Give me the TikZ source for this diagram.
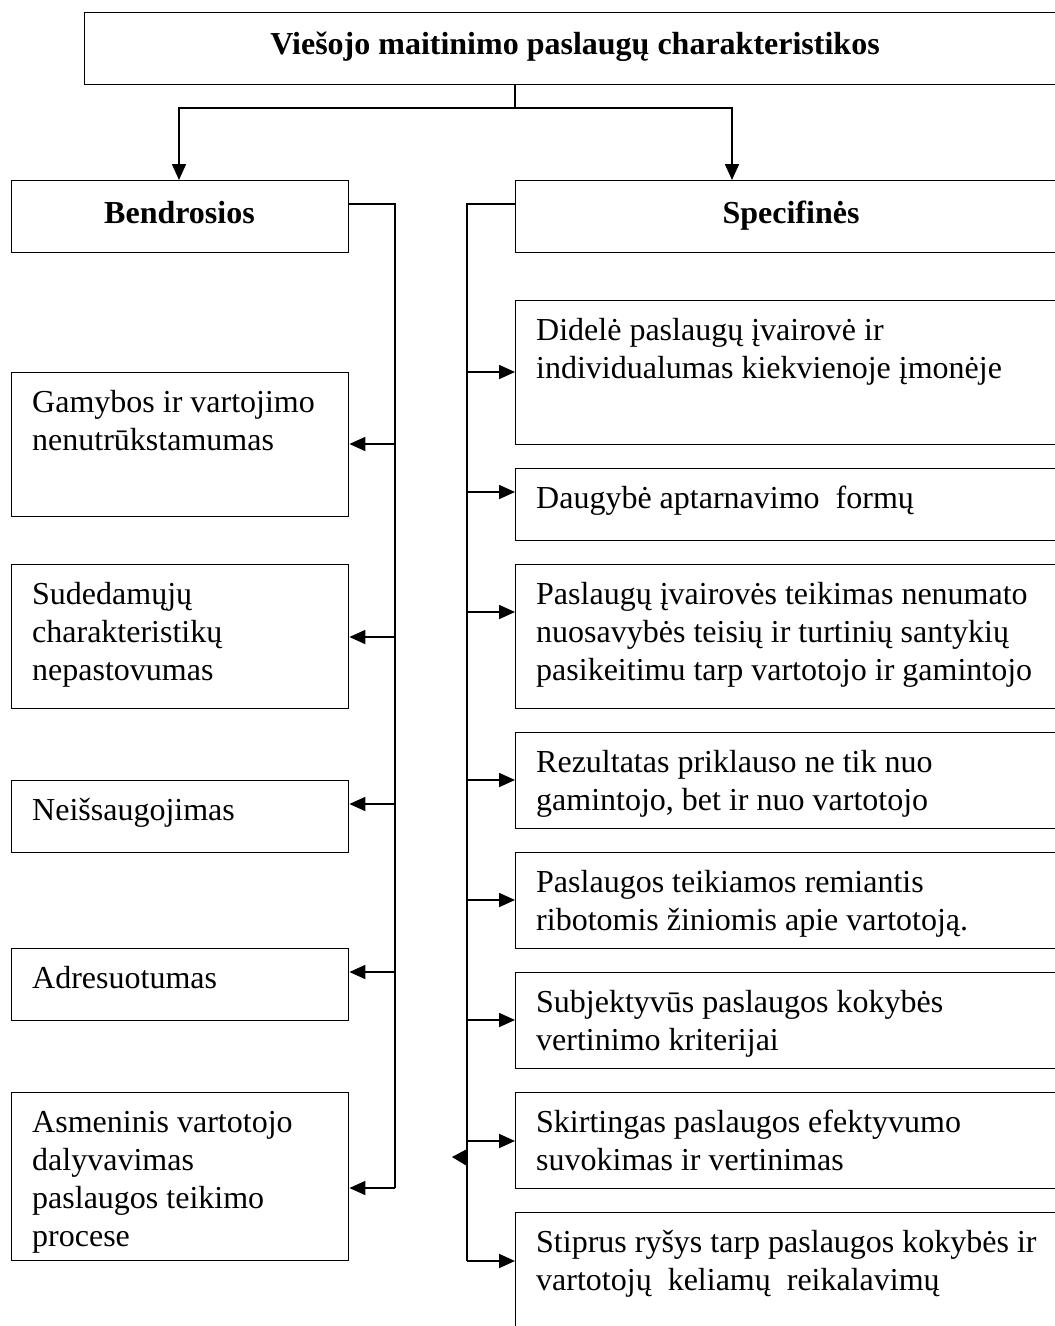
\documentclass[tikz,border=0pt]{standalone}
\usepackage{fontspec}
\setmainfont{Liberation Serif}
\usetikzlibrary{arrows.meta}
\begin{document}
\begin{tikzpicture}[x=1pt,y=-1pt,
  boxst/.style={draw=black,line width=1.4pt,rectangle,inner sep=0pt,anchor=north west},
  txt/.style={anchor=north west,inner sep=0pt,align=left,font=\fontsize{32}{38}\selectfont},
  head/.style={inner sep=0pt,anchor=base,font=\fontsize{32}{38}\selectfont\bfseries},
  conn/.style={line width=1.8pt},
  arr/.style={line width=1.8pt,-{Triangle[length=16pt,width=14pt]}}]
\clip (0,0) rectangle (1055,1326);
\fill[white] (0,0) rectangle (1055,1326);

% top
\node[boxst,minimum width=982pt,minimum height=72pt] (top) at (84,12) {};
\node[head] (toptxt) at (575,54) {Viešojo maitinimo paslaugų charakteristikos};
\node[boxst,minimum width=337pt,minimum height=72pt] (bend) at (11,180) {};
\node[head] (bendtxt) at (179.5,223) {Bendrosios};
\node[boxst,minimum width=552pt,minimum height=72pt] (spec) at (515,180) {};
\node[head] (spectxt) at (791,223) {Specifinės};

\coordinate (stem) at (515,108);
\draw[conn] (top.south -| stem) -- (stem);
\draw[arr] (stem) -| (bend.north -| 179,0);
\draw[arr] (stem) -| (spec.north -| 732,0);

% left column boxes
\node[boxst,minimum width=337pt,minimum height=144pt] (l1) at (11,372) {};
\node[boxst,minimum width=337pt,minimum height=144pt] (l2) at (11,564) {};
\node[boxst,minimum width=337pt,minimum height=72pt] (l3) at (11,780) {};
\node[boxst,minimum width=337pt,minimum height=72pt] (l4) at (11,948) {};
\node[boxst,minimum width=337pt,minimum height=168pt] (l5) at (11,1092) {};

\node[txt] (l1t) at ([shift={(21pt,-13.4pt)}]l1.north west) {\strut Gamybos ir vartojimo\\nenutrūkstamumas};
\node[txt] (l2t) at ([shift={(21pt,-13.4pt)}]l2.north west) {\strut Sudedamųjų\\charakteristikų\\nepastovumas};
\node[txt] (l3t) at ([shift={(21pt,-13.4pt)}]l3.north west) {\strut Neišsaugojimas};
\node[txt] (l4t) at ([shift={(21pt,-13.4pt)}]l4.north west) {\strut Adresuotumas};
\node[txt] (l5t) at ([shift={(21pt,-13.4pt)}]l5.north west) {\strut Asmeninis vartotojo\\dalyvavimas\\paslaugos teikimo\\procese};

% right column boxes
\node[boxst,minimum width=552pt,minimum height=144pt] (r1) at (515,300) {};
\node[boxst,minimum width=552pt,minimum height=72pt] (r2) at (515,468) {};
\node[boxst,minimum width=552pt,minimum height=144pt] (r3) at (515,564) {};
\node[boxst,minimum width=552pt,minimum height=96pt] (r4) at (515,732) {};
\node[boxst,minimum width=552pt,minimum height=96pt] (r5) at (515,852) {};
\node[boxst,minimum width=552pt,minimum height=96pt] (r6) at (515,972) {};
\node[boxst,minimum width=552pt,minimum height=96pt] (r7) at (515,1092) {};
\node[boxst,minimum width=552pt,minimum height=140pt] (r8) at (515,1212) {};

\node[txt] (r1t) at ([shift={(21pt,-13.4pt)}]r1.north west) {\strut Didelė paslaugų įvairovė ir\\individualumas kiekvienoje įmonėje};
\node[txt] (r2t) at ([shift={(21pt,-13.4pt)}]r2.north west) {\strut Daugybė aptarnavimo\ \ formų};
\node[txt] (r3t) at ([shift={(21pt,-13.4pt)}]r3.north west) {\strut Paslaugų įvairovės teikimas nenumato\\nuosavybės teisių ir turtinių santykių\\pasikeitimu tarp vartotojo ir gamintojo};
\node[txt] (r4t) at ([shift={(21pt,-13.4pt)}]r4.north west) {\strut Rezultatas priklauso ne tik nuo\\gamintojo, bet ir nuo vartotojo};
\node[txt] (r5t) at ([shift={(21pt,-13.4pt)}]r5.north west) {\strut Paslaugos teikiamos remiantis\\ribotomis žiniomis apie vartotoją.};
\node[txt] (r6t) at ([shift={(21pt,-13.4pt)}]r6.north west) {\strut Subjektyvūs paslaugos kokybės\\vertinimo kriterijai};
\node[txt] (r7t) at ([shift={(21pt,-13.4pt)}]r7.north west) {\strut Skirtingas paslaugos efektyvumo\\suvokimas ir vertinimas};
\node[txt] (r8t) at ([shift={(21pt,-13.4pt)}]r8.north west) {\strut Stiprus ryšys tarp paslaugos kokybės ir\\vartotojų\ \ keliamų\ \ reikalavimų};

% left bus
\coordinate (Ltop) at (395,204);
\coordinate (L1) at (395,444);
\coordinate (L2) at (395,637);
\coordinate (L3) at (395,804);
\coordinate (L4) at (395,972);
\coordinate (L5) at (395,1188);
\draw[conn] (bend.east |- Ltop) -- (Ltop) -- (L5);
\draw[arr] (L1) -- (L1 -| l1.east);
\draw[arr] (L2) -- (L2 -| l2.east);
\draw[arr] (L3) -- (L3 -| l3.east);
\draw[arr] (L4) -- (L4 -| l4.east);
\draw[arr] (L5) -- (L5 -| l5.east);

% right bus
\coordinate (Rtop) at (467,204);
\coordinate (R1) at (467,372);
\coordinate (R2) at (467,492);
\coordinate (R3) at (467,612);
\coordinate (R4) at (467,780);
\coordinate (R5) at (467,900);
\coordinate (R6) at (467,1020);
\coordinate (R7) at (467,1141);
\coordinate (R8) at (467,1261);
\draw[conn] (spec.west |- Rtop) -- (Rtop) -- (R8);
\draw[arr] (R1) -- (R1 -| r1.west);
\draw[arr] (R2) -- (R2 -| r2.west);
\draw[arr] (R3) -- (R3 -| r3.west);
\draw[arr] (R4) -- (R4 -| r4.west);
\draw[arr] (R5) -- (R5 -| r5.west);
\draw[arr] (R6) -- (R6 -| r6.west);
\draw[arr] (R7) -- (R7 -| r7.west);
\draw[arr] (R8) -- (R8 -| r8.west);

% stray arrowhead
\fill (452,1157) -- (467,1149) -- (467,1166) -- cycle;
\end{tikzpicture}
\end{document}
